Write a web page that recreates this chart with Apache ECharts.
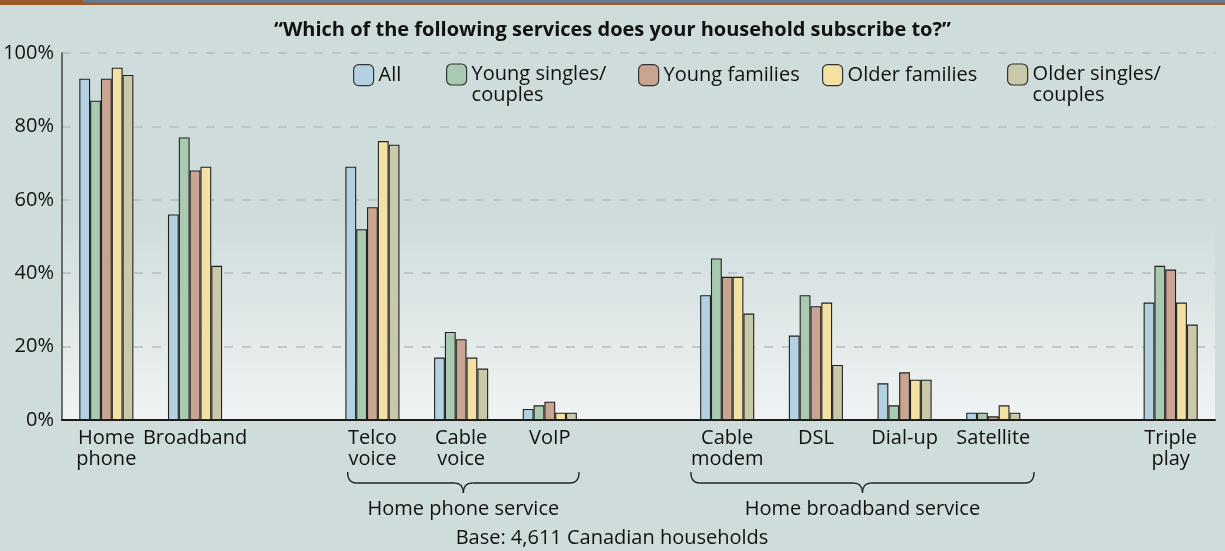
<!DOCTYPE html>
<html>
<head>
<meta charset="utf-8">
<script src="https://cdn.jsdelivr.net/npm/echarts@6/dist/echarts.min.js"></script>
<style>
  html, body { margin: 0; padding: 0; background: #cfdcdc; }
  #chart { width: 1225px; height: 551px; }
</style>
</head>
<body>
<div id="chart"></div>
<script>
// Services (blank entries leave the gaps between service families)
const categories = ['Home\nphone', 'Broadband', ' ', 'Telco\nvoice', 'Cable\nvoice', 'VoIP', '  ',
  'Cable\nmodem', 'DSL', 'Dial-up', 'Satellite', '   ', 'Triple\nplay'];

// Household segments, in legend order
const segments = ['All', 'Young singles/\ncouples', 'Young families', 'Older families', 'Older singles/\ncouples'];

// Share of households subscribing (%)
const allHouseholds = [93, 56, null, 69, 17, 3, null, 34, 23, 10, 2, null, 32];
const youngSingles  = [87, 77, null, 52, 24, 4, null, 44, 34, 4, 2, null, 42];
const youngFamilies = [93, 68, null, 58, 22, 5, null, 39, 31, 13, 1, null, 41];
const olderFamilies = [96, 69, null, 76, 17, 2, null, 39, 32, 11, 4, null, 32];
const olderSingles  = [94, 42, null, 75, 14, 2, null, 29, 15, 11, 2, null, 26];

// Y axis ticks (%)
const yTicks = [0, 20, 40, 60, 80, 100];

// Bracketed service families: first and last category index
const families = [
  { label: 'Home phone service', first: 3, last: 5 },
  { label: 'Home broadband service', first: 7, last: 10 }
];

const titleText = '\u201CWhich of the following services does your household subscribe to?\u201D';
const baseNote = 'Base: 4,611 Canadian households';

// ---- styling ----
const FONT = '"Open Sans", "Noto Sans", sans-serif';
const colors = ['#b3d1e0', '#a9cab1', '#c9a491', '#f3e1a3', '#c9c9a9'];
const seriesValues = [allHouseholds, youngSingles, youngFamilies, olderFamilies, olderSingles];
const legendLeft = [353, 446, 638, 822, 1007];
const braceOffsets = [[0.28, 0.33], [0.41, 0.46]];

const chart = echarts.init(document.getElementById('chart'), null, { renderer: 'canvas' });

const legendTextStyle = { fontFamily: FONT, fontSize: 20, lineHeight: 21, color: '#111' };

const legends = segments.map((name, i) => ({
  data: [name],
  left: legendLeft[i],
  top: name.indexOf('\n') >= 0 ? 43 : 64,
  padding: 0,
  itemWidth: 20,
  itemHeight: 21,
  selectedMode: false,
  formatter: (n) => (n.indexOf('\n') >= 0 ? '\n' + n : n),
  itemStyle: { borderColor: '#333', borderWidth: 1.2 },
  textStyle: legendTextStyle
}));

const option = {
  backgroundColor: '#cfdcdc',
  animation: false,
  textStyle: { fontFamily: FONT },
  title: {
    text: titleText,
    left: 'center',
    top: 18,
    padding: 0,
    textStyle: { fontFamily: FONT, fontSize: 20, fontWeight: 'bold', color: '#111', lineHeight: 24 }
  },
  legend: legends,
  grid: {
    left: 62, right: 10, top: 53, bottom: 131,
    show: true, borderWidth: 0,
    backgroundColor: new echarts.graphic.LinearGradient(0, 0, 0, 1, [
      { offset: 0, color: '#cfdcdc' },
      { offset: 0.45, color: '#cfdcdc' },
      { offset: 1, color: '#f0f3f3' }
    ])
  },
  xAxis: {
    type: 'category',
    data: categories,
    axisLine: { lineStyle: { color: '#1a1a1a', width: 2 } },
    axisTick: { show: false },
    axisLabel: { interval: 0, fontFamily: FONT, fontSize: 20, lineHeight: 21, color: '#111', margin: 8 }
  },
  yAxis: {
    type: 'value',
    min: yTicks[0],
    max: yTicks[yTicks.length - 1],
    interval: yTicks[1] - yTicks[0],
    axisLine: { show: true, lineStyle: { color: '#444', width: 1.5 } },
    axisTick: { show: false },
    axisLabel: { formatter: '{value}%', fontFamily: FONT, fontSize: 20, color: '#111', margin: 8 },
    splitLine: { lineStyle: { color: '#b5bfbf', width: 1.5, type: [9, 9] } }
  },
  series: segments.map((name, i) => ({
    name: name,
    type: 'bar',
    data: seriesValues[i],
    barGap: '0%',
    barCategoryGap: '39%',
    itemStyle: { color: colors[i], borderColor: '#222', borderWidth: 1.1 }
  }))
};

chart.setOption(option);

// Curly brace made of quadratic curves and straight runs
const braceStyle = { stroke: '#222', lineWidth: 1.3, fill: null };
function braceParts(xl, xr, y0, y1, y2) {
  const xc = (xl + xr) / 2;
  const r = 9;
  const curve = (x1, y1a, cx, cy, x2, y2a) => ({
    type: 'bezierCurve', silent: true, style: braceStyle,
    shape: { x1: x1, y1: y1a, cpx1: cx, cpy1: cy, x2: x2, y2: y2a }
  });
  const line = (x1, x2, y) => ({
    type: 'line', silent: true, style: braceStyle,
    shape: { x1: x1, y1: y, x2: x2, y2: y }
  });
  return [
    curve(xl, y0, xl, y1, xl + r, y1),
    line(xl + r, xc - r, y1),
    curve(xc - r, y1, xc, y1, xc, y2),
    curve(xc, y2, xc, y1, xc + r, y1),
    line(xc + r, xr - r, y1),
    curve(xr - r, y1, xr, y1, xr, y0)
  ];
}

const step = chart.convertToPixel({ xAxisIndex: 0 }, 1) - chart.convertToPixel({ xAxisIndex: 0 }, 0);
let graphics = [
  { type: 'rect', shape: { x: 0, y: 0, width: 1225, height: 5 }, style: { fill: '#9c5a2a' }, silent: true },
  { type: 'rect', shape: { x: 83, y: 0, width: 1142, height: 2.5 }, style: { fill: '#5a7fa0' }, silent: true }
];
families.forEach((f, i) => {
  const xl = chart.convertToPixel({ xAxisIndex: 0 }, f.first) - braceOffsets[i][0] * step;
  const xr = chart.convertToPixel({ xAxisIndex: 0 }, f.last) + braceOffsets[i][1] * step;
  graphics = graphics.concat(braceParts(xl, xr, 472, 483, 493));
  graphics.push({
    type: 'text',
    x: (xl + xr) / 2, y: 509,
    style: { text: f.label, fontFamily: FONT, fontSize: 20, fill: '#111', align: 'center', verticalAlign: 'middle' },
    silent: true
  });
});
graphics.push({
  type: 'text',
  x: 612, y: 538,
  style: { text: baseNote, fontFamily: FONT, fontSize: 20, fill: '#111', align: 'center', verticalAlign: 'middle' },
  silent: true
});

chart.setOption({ graphic: graphics });
</script>
</body>
</html>
